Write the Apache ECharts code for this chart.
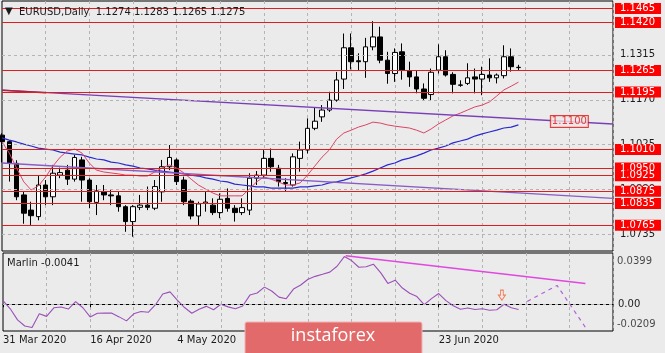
<!DOCTYPE html>
<html><head><meta charset="utf-8">
<script src="https://cdn.jsdelivr.net/npm/echarts@6/dist/echarts.min.js"></script>
<style>html,body{margin:0;padding:0;background:#ebebeb}#c{width:665px;height:353px}</style>
</head><body><div id="c"></div>
<script>
const dates = ['31 Mar 2020','1 Apr 2020','2 Apr 2020','3 Apr 2020','6 Apr 2020','7 Apr 2020','8 Apr 2020','9 Apr 2020','10 Apr 2020','13 Apr 2020',
 '14 Apr 2020','15 Apr 2020','16 Apr 2020','17 Apr 2020','20 Apr 2020','21 Apr 2020','22 Apr 2020','23 Apr 2020','24 Apr 2020','27 Apr 2020',
 '28 Apr 2020','29 Apr 2020','30 Apr 2020','1 May 2020','4 May 2020','5 May 2020','6 May 2020','7 May 2020','8 May 2020','11 May 2020',
 '12 May 2020','13 May 2020','14 May 2020','15 May 2020','18 May 2020','19 May 2020','20 May 2020','21 May 2020','22 May 2020','25 May 2020',
 '26 May 2020','27 May 2020','28 May 2020','29 May 2020','1 Jun 2020','2 Jun 2020','3 Jun 2020','4 Jun 2020','5 Jun 2020','8 Jun 2020',
 '9 Jun 2020','10 Jun 2020','11 Jun 2020','12 Jun 2020','15 Jun 2020','16 Jun 2020','17 Jun 2020','18 Jun 2020','19 Jun 2020','22 Jun 2020',
 '23 Jun 2020','24 Jun 2020','25 Jun 2020','26 Jun 2020','29 Jun 2020','30 Jun 2020','1 Jul 2020','2 Jul 2020','3 Jul 2020','6 Jul 2020',
 '7 Jul 2020','8 Jul 2020'];
const shownDates = [0, 12, 24, 60];
const futureSlots = 13;

const open = [1.1056,1.1035,1.0965,1.0863,1.0814,1.0793,1.0895,1.0857,1.0927,1.0943,
 1.0914,1.0976,1.0911,1.0839,1.0873,1.0863,1.0860,1.0825,1.0777,1.0823,
 1.0830,1.0820,1.0873,1.0954,1.0976,1.0911,1.0843,1.0795,1.0836,1.0830,
 1.0806,1.0852,1.0820,1.0806,1.0814,1.0917,1.0927,1.0981,1.0949,1.0903,
 1.0895,1.0981,1.1008,1.1078,1.1115,1.1137,1.1169,1.1237,1.1338,1.1296,
 1.1293,1.1341,1.1373,1.1298,1.1255,1.1325,1.1263,1.1244,1.1205,1.1187,
 1.1266,1.1309,1.1252,1.1218,1.1223,1.1244,1.1237,1.1250,1.1241,1.1248,
 1.1309,1.1274];
const high = [1.1062,1.1040,1.0975,1.0873,1.0841,1.0927,1.0911,1.0960,1.0951,1.0960,
 1.0992,1.0986,1.0917,1.0895,1.0895,1.0880,1.0873,1.0830,1.0830,1.0863,
 1.0890,1.0911,1.0976,1.1024,1.0981,1.0922,1.0849,1.0841,1.0875,1.0852,
 1.0868,1.0884,1.0830,1.0852,1.0933,1.0940,1.1008,1.1013,1.0960,1.0917,
 1.0997,1.1035,1.1110,1.1144,1.1153,1.1196,1.1260,1.1384,1.1384,1.1320,
 1.1370,1.1424,1.1406,1.1325,1.1336,1.1352,1.1293,1.1266,1.1223,1.1271,
 1.1349,1.1330,1.1259,1.1233,1.1288,1.1271,1.1277,1.1304,1.1255,1.1346,
 1.1336,1.1283];
const low = [1.0968,1.0906,1.0846,1.0770,1.0766,1.0781,1.0830,1.0830,1.0917,1.0895,
 1.0906,1.0841,1.0820,1.0798,1.0846,1.0830,1.0809,1.0744,1.0728,1.0814,
 1.0814,1.0814,1.0841,1.0943,1.0895,1.0830,1.0784,1.0766,1.0809,1.0798,
 1.0788,1.0809,1.0777,1.0798,1.0798,1.0895,1.0917,1.0938,1.0890,1.0873,
 1.0890,1.0938,1.0997,1.1072,1.1099,1.1131,1.1164,1.1205,1.1268,1.1266,
 1.1241,1.1330,1.1288,1.1222,1.1228,1.1235,1.1212,1.1191,1.1169,1.1169,
 1.1255,1.1245,1.1191,1.1212,1.1218,1.1191,1.1185,1.1228,1.1223,1.1239,
 1.1261,1.1265];
const close = [1.1035,1.0965,1.0857,1.0804,1.0796,1.0895,1.0857,1.0933,1.0935,1.0914,
 1.0984,1.0911,1.0841,1.0876,1.0863,1.0860,1.0825,1.0777,1.0825,1.0830,
 1.0823,1.0890,1.0954,1.0984,1.0906,1.0841,1.0795,1.0834,1.0840,1.0806,
 1.0849,1.0820,1.0806,1.0822,1.0917,1.0927,1.0981,1.0954,1.0906,1.0900,
 1.0986,1.1008,1.1078,1.1101,1.1137,1.1169,1.1234,1.1338,1.1293,1.1293,
 1.1341,1.1373,1.1298,1.1255,1.1323,1.1266,1.1244,1.1205,1.1175,1.1259,
 1.1309,1.1250,1.1220,1.1217,1.1241,1.1237,1.1252,1.1241,1.1250,1.1309,
 1.1277,1.1275];

const maFast = [1.1034,1.0998,1.0950,1.0905,1.0879,1.0892,1.0921,1.0956,1.0985,1.1005,
 1.1011,1.0998,1.0966,1.0943,1.0937,1.0934,1.0931,1.0927,1.0927,1.0924,
 1.0924,1.0937,1.0950,1.0960,1.0950,1.0934,1.0914,1.0895,1.0882,1.0869,
 1.0860,1.0860,1.0860,1.0860,1.0882,1.0905,1.0921,1.0914,1.0905,1.0895,
 1.0895,1.0902,1.0927,1.0956,1.0985,1.1008,1.1043,1.1063,1.1072,1.1082,
 1.1089,1.1098,1.1095,1.1089,1.1085,1.1082,1.1079,1.1072,1.1063,1.1076,
 1.1092,1.1105,1.1118,1.1127,1.1137,1.1147,1.1153,1.1163,1.1182,1.1202,
 1.1214,1.1227];
const maSlow = [1.1047,1.1040,1.1034,1.1027,1.1021,1.1014,1.1011,1.1008,1.1001,1.0998,
 1.0995,1.0992,1.0985,1.0979,1.0976,1.0969,1.0966,1.0960,1.0956,1.0950,
 1.0947,1.0943,1.0940,1.0937,1.0934,1.0931,1.0927,1.0924,1.0918,1.0914,
 1.0908,1.0905,1.0898,1.0895,1.0892,1.0889,1.0889,1.0885,1.0885,1.0885,
 1.0885,1.0889,1.0889,1.0892,1.0895,1.0902,1.0905,1.0911,1.0918,1.0924,
 1.0931,1.0940,1.0950,1.0960,1.0966,1.0976,1.0982,1.0989,1.0998,1.1008,
 1.1014,1.1021,1.1031,1.1037,1.1043,1.1053,1.1060,1.1066,1.1072,1.1079,
 1.1082,1.1089];
const marlin = [0.0028,-0.0036,-0.0122,-0.0170,-0.0182,-0.0075,-0.0095,-0.0028,-0.0022,-0.0038,
 0.0020,-0.0028,-0.0099,-0.0071,-0.0070,-0.0070,-0.0099,-0.0130,-0.0075,-0.0057,
 -0.0063,-0.0004,0.0079,0.0096,0.0032,-0.0026,-0.0071,-0.0039,-0.0017,-0.0043,
 0.0000,-0.0021,-0.0036,-0.0014,0.0071,0.0087,0.0133,0.0103,0.0055,0.0043,
 0.0118,0.0150,0.0194,0.0217,0.0233,0.0250,0.0296,0.0371,0.0340,0.0288,
 0.0292,0.0312,0.0246,0.0162,0.0187,0.0126,0.0085,0.0059,-0.0004,0.0043,
 0.0083,0.0028,-0.0012,-0.0039,-0.0030,-0.0041,-0.0036,-0.0047,-0.0043,0.0000,
 -0.0028,-0.0041];

const levels = [1.1465,1.1420,1.1265,1.1195,1.1010,1.0950,1.0925,1.0875,1.0835,1.0765];
const priceTicks = [1.1315,1.1170,1.1025,1.0880,1.0735];
const lastPrice = 1.1275;
const upperTrend = [[0,1.1201],[84,1.1092]];
const upperTrendRedPart = [[0,1.1201],[6,1.1193]];
const lowerTrend = [[0,1.0966],[84,1.0852]];
const arrowLabel = [[78,1.1100]];
const marlinTrend = [[47.2,0.0378],[80.2,0.0162]];
const marlinForecast = [[72.2,0.0022],[76.3,0.0146],[80.2,-0.0180]];
const marlinArrow = [[68.7,0.0071]];
const marlinTicks = [0.0399,0.00,-0.0209];
const titleText = 'EURUSD,Daily  1.1274 1.1283 1.1265 1.1275';
const marlinText = 'Marlin -0.0041';

const FONT = 'DejaVu Sans';
const cats = dates.concat(Array(futureSlots).fill(''));
const candles = open.map((o,i)=>[o, close[i], low[i], high[i]]);
const nBars = cats.length - 1;
const vGrid = (i)=> i>0 && i%6===0;

const chart = echarts.init(document.getElementById('c'), null, {renderer:'canvas'});
chart.setOption({
  animation:false,
  backgroundColor:'#ebebeb',
  title:[
    {text:'▼', left:5, top:6, padding:0, textStyle:{fontFamily:FONT,fontSize:10,fontWeight:'normal',color:'#1b1b1b'}},
    {text:titleText, left:19, top:7, padding:0, textStyle:{fontFamily:FONT,fontSize:10,fontWeight:'normal',color:'#1b1b1b'}},
    {text:marlinText, left:7, top:258, padding:0, textStyle:{fontFamily:FONT,fontSize:10,fontWeight:'normal',color:'#1b1b1b'}}
  ],
  grid:[
    {left:2, top:1, width:611, height:250, show:true, borderColor:'#000', borderWidth:1, backgroundColor:'#ebebeb'},
    {left:2, top:253, width:611, height:78, show:true, borderColor:'#000', borderWidth:1, backgroundColor:'#ebebeb'}
  ],
  xAxis:[
    {type:'category', gridIndex:0, data:cats, boundaryGap:false, axisLine:{show:false}, axisTick:{show:false}, axisLabel:{show:false},
     splitLine:{show:true, interval:vGrid, lineStyle:{color:'#b4b4b4', type:[3,3], width:1}}},
    {type:'value', gridIndex:0, min:0, max:nBars, show:false},
    {type:'category', gridIndex:1, data:cats, boundaryGap:false,
     axisLine:{show:true, lineStyle:{color:'#000'}},
     axisTick:{show:true, length:3, interval:(i)=>shownDates.includes(i), lineStyle:{color:'#000'}},
     axisLabel:{show:true, interval:(i)=>shownDates.includes(i), align:'left', margin:4, fontFamily:FONT, fontSize:10, color:'#1b1b1b'},
     splitLine:{show:true, interval:vGrid, lineStyle:{color:'#b4b4b4', type:[3,3], width:1}}},
    {type:'value', gridIndex:1, min:0, max:nBars, show:false}
  ],
  yAxis:[
    {type:'value', gridIndex:0, min:1.0682, max:1.1489, position:'right', axisLine:{show:false}, axisTick:{show:false}, axisLabel:{show:false}, splitLine:{show:false}},
    {type:'value', gridIndex:1, min:-0.0209, max:0.0399, position:'right', axisLine:{show:false}, axisTick:{show:false}, axisLabel:{show:false}, splitLine:{show:false}}
  ],
  series:[
    {type:'line', xAxisIndex:0, yAxisIndex:0, data:close.map(()=>null), z:1, silent:true,
     markLine:{symbol:['none','none'], silent:true, animation:false, precision:4,
       lineStyle:{color:'#b4b4b4', type:[3,3], width:1},
       label:{show:true, position:'end', distance:7, formatter:(p)=>Number(p.value).toFixed(4), fontFamily:FONT, fontSize:10, color:'#1b1b1b'},
       data:priceTicks.map(v=>({yAxis:v}))}},
    {type:'candlestick', xAxisIndex:0, yAxisIndex:0, data:candles, barWidth:5, z:2,
     itemStyle:{color:'#ffffff', color0:'#000000', borderColor:'#000000', borderColor0:'#000000', borderWidth:1}},
    {type:'line', xAxisIndex:0, yAxisIndex:0, data:maSlow, symbol:'none', z:3, lineStyle:{color:'#2a2ad0', width:1.2}},
    {type:'line', xAxisIndex:0, yAxisIndex:0, data:maFast, symbol:'none', z:3, lineStyle:{color:'#dc4466', width:1}},
    {type:'line', xAxisIndex:1, yAxisIndex:0, data:upperTrend, symbol:'none', z:3, lineStyle:{color:'#7a3fb8', width:1.3}},
    {type:'line', xAxisIndex:1, yAxisIndex:0, data:upperTrendRedPart, symbol:'none', z:3, lineStyle:{color:'#b02040', width:1.5}},
    {type:'line', xAxisIndex:1, yAxisIndex:0, data:lowerTrend, symbol:'none', z:3, lineStyle:{color:'#8a5cc4', width:1.3}},
    {type:'line', xAxisIndex:0, yAxisIndex:0, data:close.map(()=>null), z:4, silent:true,
     markLine:{symbol:['none','none'], silent:true, animation:false, precision:4, lineStyle:{opacity:0},
       label:{show:true, position:'end', distance:2, formatter:(p)=>Number(p.value).toFixed(4), fontFamily:FONT, fontSize:10, lineHeight:11, color:'#fff', backgroundColor:'#000', padding:[0,6,0,5]},
       data:[{yAxis:lastPrice}]}},
    {type:'line', xAxisIndex:0, yAxisIndex:0, data:close.map(()=>null), z:5, silent:true,
     markLine:{symbol:['none','none'], silent:true, animation:false, precision:4,
       lineStyle:{color:'#dc1e1e', type:'solid', width:1},
       label:{show:true, position:'end', distance:2, formatter:(p)=>Number(p.value).toFixed(4), fontFamily:FONT, fontSize:10, lineHeight:11, color:'#fff', backgroundColor:'#ff0000', padding:[0,6,0,5]},
       data:levels.map(v=>({yAxis:v}))}},
    {type:'scatter', xAxisIndex:1, yAxisIndex:0, data:arrowLabel, symbolSize:0, z:6, clip:false,
     label:{show:true, position:'inside', formatter:(p)=>p.value[1].toFixed(4), fontFamily:FONT, fontSize:10, color:'#e01010',
       backgroundColor:'#efe6e6', borderColor:'#e01010', borderWidth:1, padding:[1,1,0,1]}},
    {type:'line', xAxisIndex:2, yAxisIndex:1, data:marlin, symbol:'none', z:3, lineStyle:{color:'#9a50b8', width:1.1},
     markLine:{symbol:['none','none'], silent:true, animation:false, precision:4,
       lineStyle:{color:'#b4b4b4', type:[3,3], width:1},
       label:{show:true, position:'end', distance:5, formatter:()=> '0.00', fontFamily:FONT, fontSize:10, color:'#1b1b1b'},
       data:[{yAxis:0}]}},
    {type:'line', xAxisIndex:3, yAxisIndex:1, data:marlinTrend, symbol:'none', z:4, lineStyle:{color:'#e048e0', width:1.5}},
    {type:'line', xAxisIndex:3, yAxisIndex:1, data:marlinForecast, symbol:'none', z:4, lineStyle:{color:'#b064d8', width:1.2, type:[4,4]}},
    {type:'scatter', xAxisIndex:3, yAxisIndex:1, data:marlinArrow, z:5,
     symbol:'path://M3,0 L7,0 L7,5 L10,5 L5,10 L0,5 L3,5 Z', symbolSize:[7,10],
     itemStyle:{color:'#fbe4dc', borderColor:'#f0603a', borderWidth:1}},
    {type:'scatter', xAxisIndex:3, yAxisIndex:1, symbolSize:0, z:5, clip:false,
     data:[{value:[nBars, marlinTicks[0]], label:{offset:[0,8]}}, {value:[nBars, marlinTicks[2]], label:{offset:[0,-7]}}],
     label:{show:true, position:'right', distance:4, formatter:(p)=>p.value[1].toFixed(4), fontFamily:FONT, fontSize:10, color:'#1b1b1b'}}
  ],
  graphic:[
    {type:'rect', z:100, shape:{x:245, y:322, width:177, height:40, r:2}, style:{fill:'#e26a6a', stroke:'#f2b4b4', lineWidth:1}},
    {type:'text', z:101, x:333, y:336, style:{text:'instaforex', fill:'#ffffff', font:"normal 18px 'Open Sans'", textAlign:'center', textVerticalAlign:'middle'}}
  ]
});
</script></body></html>
